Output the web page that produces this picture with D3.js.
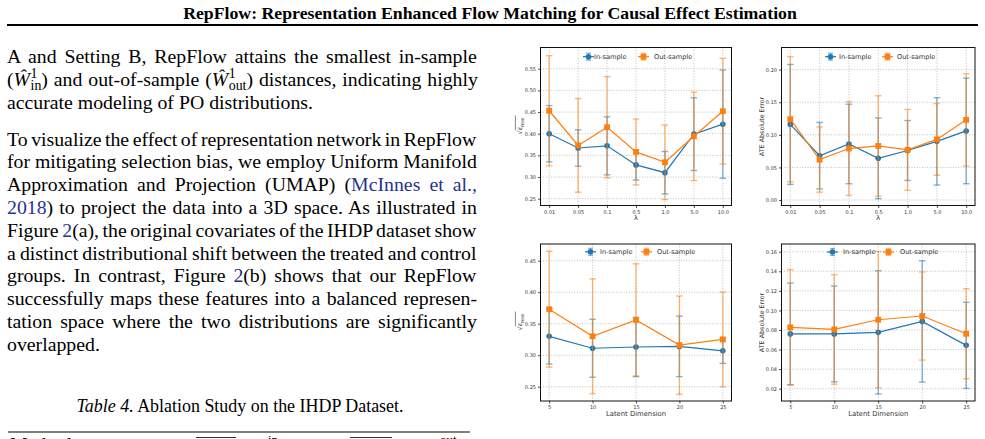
<!DOCTYPE html>
<html><head><meta charset="utf-8">
<script src="https://cdn.jsdelivr.net/npm/d3@7"></script>
<style>body{margin:0;background:#fff}svg{display:block}</style>
</head><body><svg id="c" width="985" height="439"></svg>
<script>
// ---------------- data ----------------
const lambdaLabels = ["0.01","0.05","0.1","0.5","1.0","5.0","10.0"];
const latentDims = [5,10,15,20,25];
const seriesNames = ["In-sample","Out-sample"];

const peheLambdaInMean  = [0.400,0.367,0.372,0.328,0.310,0.399,0.422];
const peheLambdaInStd   = [0.065,0.042,0.067,0.035,0.049,0.084,0.125];
const peheLambdaOutMean = [0.453,0.373,0.415,0.358,0.334,0.394,0.452];
const peheLambdaOutStd  = [0.127,0.108,0.117,0.076,0.086,0.102,0.122];

const ateLambdaInMean  = [0.116,0.068,0.086,0.064,0.076,0.090,0.106];
const ateLambdaInStd   = [0.092,0.051,0.061,0.062,0.046,0.067,0.081];
const ateLambdaOutMean = [0.124,0.062,0.079,0.083,0.077,0.093,0.123];
const ateLambdaOutStd  = [0.096,0.050,0.072,0.077,0.062,0.055,0.071];

const peheDimInMean  = [0.330,0.311,0.313,0.314,0.307];
const peheDimInStd   = [0.044,0.046,0.047,0.048,0.020];
const peheDimOutMean = [0.373,0.330,0.356,0.316,0.325];
const peheDimOutStd  = [0.092,0.091,0.089,0.078,0.075];

const ateDimInMean  = [0.0760,0.0760,0.0776,0.0888,0.0643];
const ateDimInStd   = [0.052,0.049,0.063,0.062,0.044];
const ateDimOutMean = [0.0827,0.0806,0.0905,0.0943,0.0762];
const ateDimOutStd  = [0.059,0.056,0.0697,0.045,0.046];

const peheLambdaTicks = [0.25,0.30,0.35,0.40,0.45,0.50,0.55];
const ateLambdaTicks  = [0.00,0.05,0.10,0.15,0.20];
const peheDimTicks    = [0.25,0.30,0.35,0.40,0.45];
const ateDimTicks     = [0.02,0.04,0.06,0.08,0.10,0.12,0.14,0.16];

const titleText = "RepFlow: Representation Enhanced Flow Matching for Causal Effect Estimation";
const captionText = ["Table 4.", " Ablation Study on the IHDP Dataset."];

// ---------------- drawing ----------------
const svg = d3.select("#c");
svg.append("rect").attr("width",985).attr("height",439).attr("fill","#fff");
const BLUE = "#1f77b4", ORANGE = "#ff7f0e";
const SERIF = "'Liberation Serif','Times New Roman',serif";
const SANS = "'DejaVu Sans',sans-serif";

function fitWidth(sel, target){
  const w = sel.node().getBBox().width;
  const fs = parseFloat(sel.attr("font-size"));
  sel.attr("font-size", fs*target/w);
}

// title
const title = svg.append("text").attr("x",490).attr("y",19)
  .attr("text-anchor","middle").attr("font-family",SERIF).attr("font-weight","bold")
  .attr("font-size",16).attr("fill","#000").text(titleText);
fitWidth(title, 614);
svg.append("line").attr("x1",7).attr("x2",978).attr("y1",25).attr("y2",25)
  .attr("stroke","#000").attr("stroke-width",2);

// body text
const FS = 19.8, LEFT = 7, RIGHT = 477;
const LINK = "#28338c";
const lines = [
  {c:58, j:true, parts:[["A and Setting B, RepFlow attains the smallest in-sample"]]},
  {c:80.8, j:true, math:true},
  {c:103.6, j:false, parts:[["accurate modeling of PO distributions."]]},
  {c:140.6, j:true, parts:[["To visualize the effect of representation network in RepFlow"]]},
  {c:163.4, j:true, parts:[["for mitigating selection bias, we employ Uniform Manifold"]]},
  {c:186.2, j:true, parts:[["Approximation and Projection (UMAP) ("],["McInnes et al.,",LINK]]},
  {c:209, j:true, parts:[["2018",LINK],[") to project the data into a 3D space. As illustrated in"]]},
  {c:231.8, j:true, parts:[["Figure "],["2",LINK],["(a), the original covariates of the IHDP dataset show"]]},
  {c:254.6, j:true, parts:[["a distinct distributional shift between the treated and control"]]},
  {c:277.4, j:true, parts:[["groups. In contrast, Figure "],["2",LINK],["(b) shows that our RepFlow"]]},
  {c:300.2, j:true, parts:[["successfully maps these features into a balanced represen-"]]},
  {c:323, j:true, parts:[["tation space where the two distributions are significantly"]]},
  {c:345.8, j:false, parts:[["overlapped."]]}
];
lines.forEach(L=>{
  const t = svg.append("text").attr("x",LEFT).attr("y",L.c+5)
    .attr("font-family",SERIF).attr("font-size",FS).attr("fill","#000")
    .style("white-space","pre");
  let nSpaces = 0;
  if(L.math){
    const seg = (txt)=>{ t.append("tspan").text(txt); nSpaces += (txt.match(/ /g)||[]).length; };
    const hatW = (sub)=>{
      t.append("tspan").attr("font-style","italic").text("Ŵ");
      t.append("tspan").attr("font-size",FS*0.7).attr("dy",-7.5).attr("dx",0.5).text("1");
      t.append("tspan").attr("font-size",FS*0.7).attr("dy",12).attr("dx",-FS*0.7*0.5).text(sub);
    };
    seg("(");
    hatW("in");
    t.append("tspan").attr("dy",-4.5).text(") and out-of-sample (");
    nSpaces += 2;
    hatW("out");
    t.append("tspan").attr("dy",-4.5).text(") distances, indicating highly");
    nSpaces += 3;
  } else {
    L.parts.forEach(p=>{
      t.append("tspan").attr("fill",p[1]||"#000").text(p[0]);
      nSpaces += (p[0].match(/ /g)||[]).length;
    });
  }
  if(L.j){
    const w = t.node().getBBox().width;
    t.attr("word-spacing", ((RIGHT-LEFT)-w)/nSpaces);
  }
});

// caption
const cap = svg.append("text").attr("x",240).attr("y",412).attr("text-anchor","middle")
  .attr("font-family",SERIF).attr("font-size",FS).attr("fill","#000").style("white-space","pre");
cap.append("tspan").attr("font-style","italic").text(captionText[0]);
cap.append("tspan").text(captionText[1]);
fitWidth(cap, 327);

// table top rule and cut-off header
svg.append("line").attr("x1",8).attr("x2",470).attr("y1",432).attr("y2",432)
  .attr("stroke","#000").attr("stroke-width",1);
svg.append("text").attr("x",10).attr("y",451).attr("font-family",SERIF)
  .attr("font-size",FS).text("Method");
[[196,236,"in",268],[350,392,"out",440]].forEach(d=>{
  svg.append("line").attr("x1",d[0]).attr("x2",d[1]).attr("y1",437.5).attr("y2",437.5)
    .attr("stroke","#000").attr("stroke-width",0.8);
  svg.append("text").attr("x",d[0]+4).attr("y",448).attr("font-family",SERIF)
    .attr("font-size",13).text(d[2]);
  svg.append("text").attr("x",d[3]).attr("y",444).attr("font-family",SERIF)
    .attr("font-size",13).text(d[2]);
});

// ---------------- charts ----------------
function chart(o){
  const g = svg.append("g");
  const y = d3.scaleLinear().domain(o.yDomain).range([o.y1,o.y0]);
  const x = o.x;
  const xv = o.xVals;
  const xPos = i => x(xv[i]);

  // grid
  g.selectAll(".gy").data(o.yTicks).join("line")
    .attr("x1",o.x0).attr("x2",o.x1).attr("y1",d=>y(d)).attr("y2",d=>y(d))
    .attr("stroke","#b0b0b0").attr("stroke-width",0.8).attr("stroke-dasharray","1,1.6");
  g.selectAll(".gx").data(xv).join("line")
    .attr("x1",d=>x(d)).attr("x2",d=>x(d)).attr("y1",o.y0).attr("y2",o.y1)
    .attr("stroke","#b0b0b0").attr("stroke-width",0.8).attr("stroke-dasharray","1,1.6");

  const series = [
    {m:o.inMean, s:o.inStd, c:BLUE, mk:"circle"},
    {m:o.outMean, s:o.outStd, c:ORANGE, mk:"square"}
  ];
  series.forEach(S=>{
    const eb = g.append("g").attr("stroke",S.c).attr("stroke-opacity",0.55).attr("stroke-width",1.4);
    S.m.forEach((m,i)=>{
      const cx = xPos(i), yt = y(m+S.s[i]), yb = y(m-S.s[i]);
      eb.append("line").attr("x1",cx).attr("x2",cx).attr("y1",yt).attr("y2",yb);
      eb.append("line").attr("x1",cx-3.3).attr("x2",cx+3.3).attr("y1",yt).attr("y2",yt);
      eb.append("line").attr("x1",cx-3.3).attr("x2",cx+3.3).attr("y1",yb).attr("y2",yb);
    });
    const line = d3.line().x((d,i)=>xPos(i)).y(d=>y(d));
    g.append("path").attr("d",line(S.m)).attr("fill","none").attr("stroke",S.c).attr("stroke-width",1.2);
    S.m.forEach((m,i)=>{
      if(S.mk==="circle") g.append("circle").attr("cx",xPos(i)).attr("cy",y(m)).attr("r",2.8).attr("fill",S.c);
      else g.append("rect").attr("x",xPos(i)-2.9).attr("y",y(m)-2.9).attr("width",5.8).attr("height",5.8).attr("fill",S.c);
    });
  });

  // axes
  const ya = g.append("g").attr("transform",`translate(${o.x0},0)`)
    .call(d3.axisLeft(y).tickValues(o.yTicks).tickFormat(d3.format(".2f")).tickSize(2.5).tickPadding(2));
  const xa = g.append("g").attr("transform",`translate(0,${o.y1})`)
    .call(d3.axisBottom(x).tickValues(xv).tickFormat(o.xFmt).tickSize(2.5).tickPadding(2));
  [ya,xa].forEach(a=>{
    a.select(".domain").remove();
    a.selectAll("line").attr("stroke","#222").attr("stroke-width",0.8);
    a.selectAll("text").attr("font-family",SANS).attr("font-size",5).attr("fill","#333");
  });

  // frame
  g.append("rect").attr("x",o.x0).attr("y",o.y0).attr("width",o.x1-o.x0).attr("height",o.y1-o.y0)
    .attr("fill","none").attr("stroke","#111").attr("stroke-width",1);

  // y label
  const yl = g.append("g").attr("transform",`translate(${o.ylabX},${(o.y0+o.y1)/2}) rotate(-90)`);
  if(o.ylab==="pehe"){
    const t = yl.append("text").attr("x",-8).attr("y",2).attr("font-family",SANS)
      .attr("font-size",6.5).attr("fill","#333");
    t.append("tspan").text("√");
    t.append("tspan").attr("font-style","italic").text("ε");
    t.append("tspan").attr("font-size",3.6).attr("dy",1.5).text("PEHE");
    yl.append("line").attr("x1",-3.6).attr("x2",11).attr("y1",-4.6).attr("y2",-4.6)
      .attr("stroke","#333").attr("stroke-width",0.6);
  } else {
    yl.append("text").attr("text-anchor","middle").attr("y",2).attr("font-family",SANS)
      .attr("font-size",6.4).attr("fill","#333").text(o.ylab);
  }
  // x label
  g.append("text").attr("x",(o.x0+o.x1)/2).attr("y",o.xlabY).attr("text-anchor","middle")
    .attr("font-family",SANS).attr("font-size",o.xlab==="λ"?6.5:6.8).attr("fill","#333").text(o.xlab);

  // legend
  const lg = g.append("g");
  [[BLUE,"circle",o.leg[0]],[ORANGE,"square",o.leg[1]]].forEach((d,k)=>{
    const [hx,tx] = d[2], ly = o.legY;
    lg.append("line").attr("x1",hx).attr("x2",hx+11).attr("y1",ly).attr("y2",ly)
      .attr("stroke",d[0]).attr("stroke-width",1.2);
    const mx = hx+5.5;
    const e = lg.append("g").attr("stroke",d[0]).attr("stroke-opacity",0.55).attr("stroke-width",1.2);
    e.append("line").attr("x1",mx).attr("x2",mx).attr("y1",ly-3.5).attr("y2",ly+3.5);
    e.append("line").attr("x1",mx-2.5).attr("x2",mx+2.5).attr("y1",ly-3.5).attr("y2",ly-3.5);
    e.append("line").attr("x1",mx-2.5).attr("x2",mx+2.5).attr("y1",ly+3.5).attr("y2",ly+3.5);
    if(d[1]==="circle") lg.append("circle").attr("cx",mx).attr("cy",ly).attr("r",2.8).attr("fill",d[0]);
    else lg.append("rect").attr("x",mx-2.9).attr("y",ly-2.9).attr("width",5.8).attr("height",5.8).attr("fill",d[0]);
    lg.append("text").attr("x",tx).attr("y",ly+2.2).attr("font-family",SANS).attr("font-size",6.6)
      .attr("fill","#333").text(seriesNames[k]);
  });
}

function lambdaScale(x0,x1){ return d3.scalePoint().domain(lambdaLabels).range([x0,x1]).padding(0.3); }
function dimScale(x0,x1){ return d3.scaleLinear().domain([4,26]).range([x0,x1]); }

chart({x0:540.5,x1:731.5,y0:47.5,y1:205.5, x:lambdaScale(540.5,731.5), xVals:lambdaLabels, xFmt:d=>d,
  yDomain:[0.2343,0.599], yTicks:peheLambdaTicks,
  inMean:peheLambdaInMean,inStd:peheLambdaInStd,outMean:peheLambdaOutMean,outStd:peheLambdaOutStd,
  ylab:"pehe", ylabX:520, xlab:"λ", xlabY:220, legY:56.7, leg:[[583,594],[638,654]]});
chart({x0:781.5,x1:975,y0:47.5,y1:205.5, x:lambdaScale(781.5,975), xVals:lambdaLabels, xFmt:d=>d,
  yDomain:[-0.0084,0.234], yTicks:ateLambdaTicks,
  inMean:ateLambdaInMean,inStd:ateLambdaInStd,outMean:ateLambdaOutMean,outStd:ateLambdaOutStd,
  ylab:"ATE Absolute Error", ylabX:762, xlab:"λ", xlabY:220, legY:56.7, leg:[[825,839],[882,897]]});
chart({x0:540.5,x1:731.5,y0:244,y1:401, x:dimScale(540.5,731.5), xVals:latentDims, xFmt:d3.format("d"),
  yDomain:[0.2273,0.4765], yTicks:peheDimTicks,
  inMean:peheDimInMean,inStd:peheDimInStd,outMean:peheDimOutMean,outStd:peheDimOutStd,
  ylab:"pehe", ylabX:520, xlab:"Latent Dimension", xlabY:416, legY:251.8, leg:[[585,600],[641,657]]});
chart({x0:781.5,x1:975,y0:244,y1:401, x:dimScale(781.5,975), xVals:latentDims, xFmt:d3.format("d"),
  yDomain:[0.00743,0.1679], yTicks:ateDimTicks,
  inMean:ateDimInMean,inStd:ateDimInStd,outMean:ateDimOutMean,outStd:ateDimOutStd,
  ylab:"ATE Absolute Error", ylabX:762, xlab:"Latent Dimension", xlabY:416, legY:252, leg:[[827,843],[883,900]]});
</script></body></html>
